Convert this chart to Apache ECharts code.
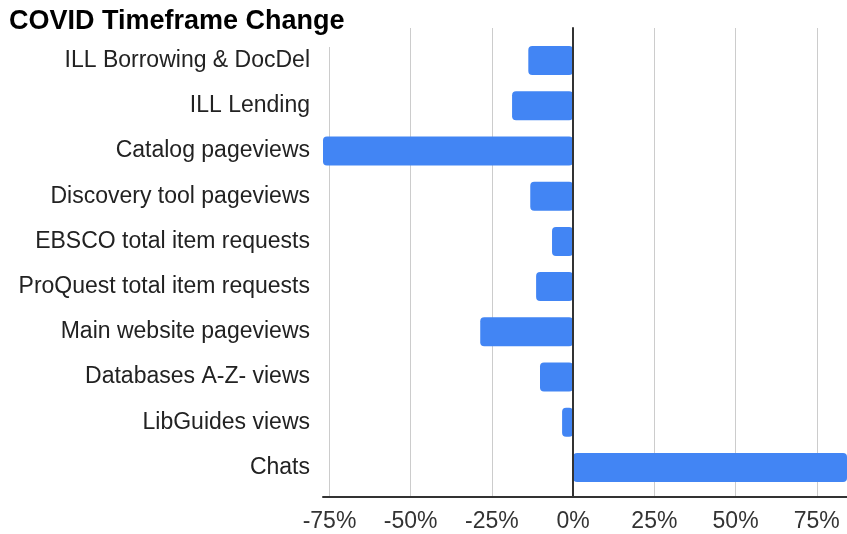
<!DOCTYPE html>
<html>
<head>
<meta charset="utf-8">
<script src="https://cdn.jsdelivr.net/npm/echarts@6/dist/echarts.min.js"></script>
<style>html,body{margin:0;padding:0;background:#fff}#c{width:847px;height:534px}</style>
</head>
<body>
<div id="c"></div>
<script>
const categories = [
  "ILL Borrowing & DocDel",
  "ILL Lending",
  "Catalog pageviews",
  "Discovery tool pageviews",
  "EBSCO total item requests",
  "ProQuest total item requests",
  "Main website pageviews",
  "Databases A-Z- views",
  "LibGuides views",
  "Chats"
];
const changePct = [-13.8, -18.8, -77, -13.2, -6.5, -11.4, -28.6, -10.2, -3.4, 84.3];
const tickValues = [-75, -50, -25, 0, 25, 50, 75];
const axisMin = -77;
const axisMax = 84.3;

const chart = echarts.init(document.getElementById('c'), null, {renderer: 'canvas'});
const fam = '"Liberation Sans", Arial, sans-serif';
chart.setOption({
  animation: false,
  backgroundColor: '#fff',
  title: {
    text: 'COVID Timeframe Change',
    left: 0, top: 0,
    padding: [8, 8, 12, 9],
    backgroundColor: '#fff',
    textStyle: {fontFamily: fam, fontWeight: 'bold', fontSize: 27, color: '#000'}
  },
  grid: [
    {left: 323, right: 0, top: 28, bottom: 37},
    {left: 323, right: 0, top: 38, bottom: 44}
  ],
  xAxis: [
    {
      gridIndex: 0, type: 'value', min: axisMin, max: axisMax,
      axisLine: {show: true, lineStyle: {color: '#333', width: 2}},
      axisTick: {show: false, customValues: tickValues},
      axisLabel: {customValues: tickValues, formatter: v => v + '%', fontFamily: fam, fontSize: 23, color: '#333', margin: 13},
      splitLine: {show: true, lineStyle: {color: '#ccc', width: 1}}
    },
    {
      gridIndex: 1, type: 'value', min: axisMin, max: axisMax, show: false,
      splitLine: {show: false}
    }
  ],
  yAxis: [
    {
      gridIndex: 0, type: 'value', min: 0, max: 1,
      axisLine: {show: true, onZero: true, lineStyle: {color: '#333', width: 2}},
      axisTick: {show: false}, axisLabel: {show: false}, splitLine: {show: false},
      z: 5
    },
    {
      gridIndex: 1, type: 'category', data: categories, inverse: true,
      axisLine: {show: false}, axisTick: {show: false},
      axisLabel: {fontFamily: fam, fontSize: 23, color: '#222', margin: 13}
    }
  ],
  series: [{
    type: 'bar', xAxisIndex: 1, yAxisIndex: 1,
    data: changePct,
    barWidth: 29,
    itemStyle: {color: '#4285F4', borderRadius: 4},
    z: 2
  }]
});
</script>
</body>
</html>
